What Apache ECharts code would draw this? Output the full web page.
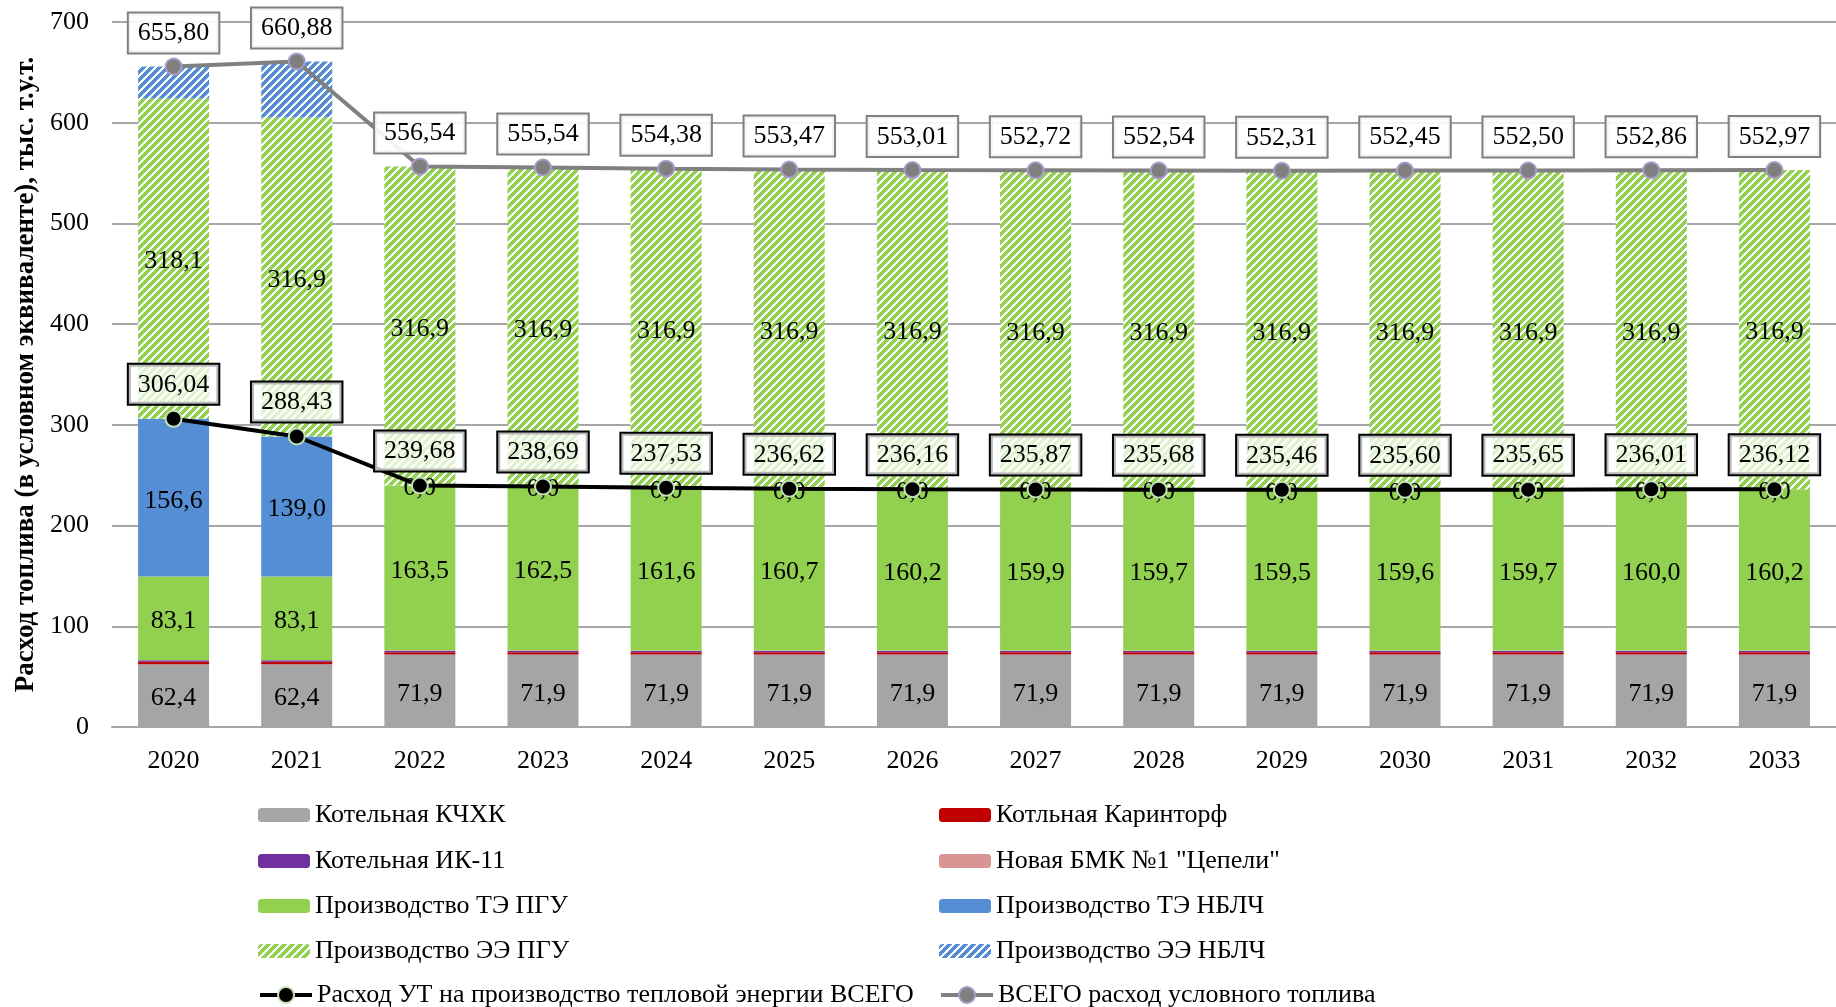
<!DOCTYPE html>
<html><head><meta charset="utf-8">
<script src="https://cdn.jsdelivr.net/npm/echarts@6/dist/echarts.min.js"></script>
<style>html,body{margin:0;padding:0;background:#fff}#c{width:1836px;height:1007px}</style>
</head><body><div id="c"></div>
<script>
const years = ['2020','2021','2022','2023','2024','2025','2026','2027','2028','2029','2030','2031','2032','2033'];
const kchk = [62.4,62.4,71.9,71.9,71.9,71.9,71.9,71.9,71.9,71.9,71.9,71.9,71.9,71.9];
const karintorf = [2.4,2.4,2.3,2.3,2.3,2.3,2.3,2.3,2.3,2.3,2.3,2.3,2.3,2.3];
const ik11 = [1.5,1.5,1.2,1.2,1.2,1.2,1.2,1.2,1.2,1.2,1.2,1.2,1.2,1.2];
const bmk = [0,0,0.8,0.8,0.5,0.5,0.6,0.6,0.6,0.6,0.6,0.6,0.6,0.5];
const tePgu = [83.1,83.1,163.5,162.5,161.6,160.7,160.2,159.9,159.7,159.5,159.6,159.7,160.0,160.2];
const teNblch = [156.6,139.0,0,0,0,0,0,0,0,0,0,0,0,0];
const eePgu = [318.1,316.9,316.9,316.9,316.9,316.9,316.9,316.9,316.9,316.9,316.9,316.9,316.9,316.9];
const eeNblch = [31.7,55.5,0,0,0,0,0,0,0,0,0,0,0,0];
const heatTotal = [306.04,288.43,239.68,238.69,237.53,236.62,236.16,235.87,235.68,235.46,235.60,235.65,236.01,236.12];
const fuelTotal = [655.80,660.88,556.54,555.54,554.38,553.47,553.01,552.72,552.54,552.31,552.45,552.50,552.86,552.97];
const yTicks = [0,100,200,300,400,500,600,700];

const names = {
  kchk:'Котельная КЧХК', kar:'Котльная Каринторф', ik:'Котельная ИК-11', bmk:'Новая БМК №1 "Цепели"',
  tePgu:'Производство ТЭ ПГУ', teNb:'Производство ТЭ НБЛЧ', eePgu:'Производство ЭЭ ПГУ', eeNb:'Производство ЭЭ НБЛЧ',
  heat:'Расход УТ на производство тепловой энергии ВСЕГО', total:'ВСЕГО расход условного топлива'
};
const legendLeft = [names.kchk, names.ik, names.tePgu, names.eePgu, names.heat];
const legendRight = [names.kar, names.bmk, names.teNb, names.eeNb, names.total];

function hatch(col){
  const c = document.createElement('canvas'); c.width = 8; c.height = 8;
  const g = c.getContext('2d'); g.fillStyle = '#fff'; g.fillRect(0,0,8,8); g.fillStyle = col;
  for (let x=0;x<8;x++) for (let y=0;y<8;y++) if ((x+y)%8 < 5) g.fillRect(x,y,1,1);
  return {image:c, repeat:'repeat'};
}
const FONT = '"Liberation Serif","Times New Roman",serif';
const FS = 26;
const fmt1 = v => v.toFixed(1).replace('.',',');
const fmt2 = v => v.toFixed(2).replace('.',',');

function barSeries(name, data, color, showLabel){
  return {name, type:'bar', stack:'s', data, barWidth:71, itemStyle:{color},
    label:{show:showLabel, position:'inside', offset:[0,3], fontFamily:FONT, fontSize:FS, color:'#000',
      formatter:p=>fmt1(p.value)}, emphasis:{disabled:true}};
}
function lineLabel(border, bg, dist){
  return {show:true, position:'top', distance:dist, fontFamily:FONT, fontSize:FS, color:'#000', lineHeight:26,
    backgroundColor:bg, borderColor:border, borderWidth:2, padding:[7,9,6,9], formatter:p=>fmt2(p.value)};
}
const series = [
  barSeries(names.kchk, kchk, '#a5a5a5', true),
  barSeries(names.kar, karintorf, '#c00000', false),
  barSeries(names.ik, ik11, '#7030a0', false),
  barSeries(names.bmk, bmk, '#d99594', false),
  barSeries(names.tePgu, tePgu, '#92d050', true),
  barSeries(names.teNb, teNblch, '#558ed5', true),
  barSeries(names.eePgu, eePgu, hatch('#92d050'), true),
  barSeries(names.eeNb, eeNblch, hatch('#558ed5'), false),
  {name:names.heat, type:'line', data:heatTotal, z:5, symbol:'circle', symbolSize:16,
    lineStyle:{color:'#000', width:4}, itemStyle:{color:'#000', borderColor:'#c5e0b4', borderWidth:2},
    label:lineLabel('#000', 'rgba(255,255,255,0.72)', 6), emphasis:{disabled:true}},
  {name:names.total, type:'line', data:fuelTotal, z:5, symbol:'circle', symbolSize:16,
    lineStyle:{color:'#808080', width:4}, itemStyle:{color:'#7f7f7f', borderColor:'#a99bc9', borderWidth:2},
    label:lineLabel('#808080', 'rgba(255,255,255,0.9)', 5), emphasis:{disabled:true}}
];
const rowCenters = [810, 856, 901, 946, 990];
const legends = [];
function addLegends(list, left){
  list.forEach((n, i) => {
    const isLine = i === list.length - 1;
    legends.push({orient:'horizontal', left, top:rowCenters[i]-13, itemWidth:52, itemHeight:isLine ? 20 : 14,
      lineStyle:{width:4}, textStyle:{fontFamily:FONT, fontSize:FS, color:'#000', lineHeight:26},
      selectedMode:false, data:[n]});
  });
}
addLegends(legendLeft, 253);
addLegends(legendRight, 934);

const chart = echarts.init(document.getElementById('c'), null, {renderer:'canvas'});
chart.setOption({
  animation:false,
  grid:{left:112, right:-11, top:22, bottom:280},
  legend:legends,
  xAxis:{type:'category', data:years, axisTick:{show:false},
    axisLine:{lineStyle:{color:'#a6a6a6', width:2}},
    axisLabel:{fontFamily:FONT, fontSize:FS, color:'#000', margin:21}},
  yAxis:{type:'value', min:yTicks[0], max:yTicks[yTicks.length-1], interval:100,
    name:'Расход топлива (в условном эквиваленте), тыс. т.у.т.', nameLocation:'middle', nameGap:69,
    nameTextStyle:{fontFamily:FONT, fontSize:27, fontWeight:'bold', color:'#000'},
    axisLine:{show:false}, axisTick:{show:false},
    splitLine:{lineStyle:{color:'#a6a6a6', width:2}},
    axisLabel:{fontFamily:FONT, fontSize:FS, color:'#000', margin:23}},
  series
});
</script></body></html>
